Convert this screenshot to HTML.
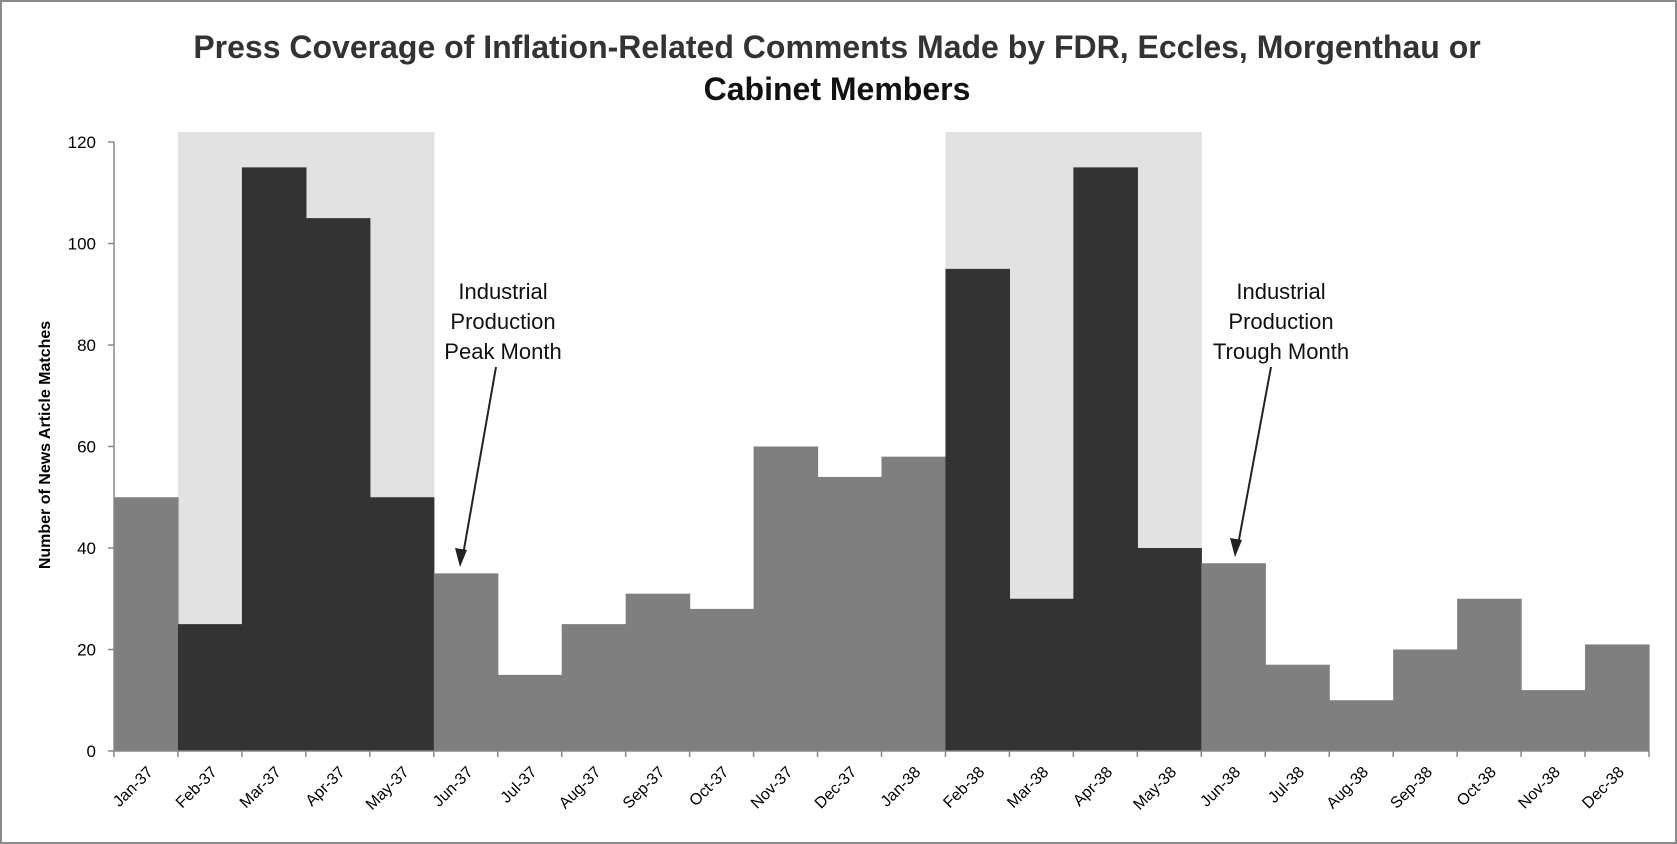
<!DOCTYPE html>
<html><head><meta charset="utf-8"><style>
body{margin:0;background:#fff;}
svg{display:block;font-family:"Liberation Sans",sans-serif;}
</style></head><body>
<svg width="1677" height="844" viewBox="0 0 1677 844">
<rect x="1" y="1" width="1675" height="842" fill="#fff" stroke="#8a8a8a" stroke-width="2"/>
<g id="shade"></g>
<g id="bars"></g>
<g id="axes"></g>
<text x="837" y="58" text-anchor="middle" font-size="32" font-weight="bold" fill="#333">Press Coverage of Inflation-Related Comments Made by FDR, Eccles, Morgenthau or</text>
<text x="837" y="100" text-anchor="middle" font-size="32" font-weight="bold" fill="#111">Cabinet Members</text>
<text transform="translate(50,445) rotate(-90)" text-anchor="middle" font-size="16" font-weight="bold" fill="#000">Number of News Article Matches</text>
<g font-size="22" fill="#111" text-anchor="middle">
<text x="503" y="299">Industrial</text><text x="503" y="329">Production</text><text x="503" y="359">Peak Month</text>
<line x1="496" y1="367" x2="463" y2="555" stroke="#222" stroke-width="2"/>
<polygon points="460,567 455,548 467,550" fill="#222"/>
</g>
<g font-size="22" fill="#111" text-anchor="middle">
<text x="1281" y="299">Industrial</text><text x="1281" y="329">Production</text><text x="1281" y="359">Trough Month</text>
<line x1="1271" y1="367" x2="1238" y2="545" stroke="#222" stroke-width="2"/>
<polygon points="1235,557 1230,538 1242,540" fill="#222"/>
</g>
</svg>
<script>
const categories=["Jan-37","Feb-37","Mar-37","Apr-37","May-37","Jun-37","Jul-37","Aug-37","Sep-37","Oct-37","Nov-37","Dec-37","Jan-38","Feb-38","Mar-38","Apr-38","May-38","Jun-38","Jul-38","Aug-38","Sep-38","Oct-38","Nov-38","Dec-38"];
const values=[50,25,115,105,50,35,15,25,31,28,60,54,58,95,30,115,40,37,17,10,20,30,12,21];
const recession=[false,true,true,true,true,false,false,false,false,false,false,false,false,true,true,true,true,false,false,false,false,false,false,false];
const yTicks=[0,20,40,60,80,100,120];
const NS="http://www.w3.org/2000/svg";
const x0=114,bw=(1649-114)/categories.length,y0=751,y120=142;
const X=i=>x0+i*bw, Y=v=>y0-(y0-y120)*v/120;
function mk(t,a,p){const e=document.createElementNS(NS,t);for(const k in a)e.setAttribute(k,a[k]);p.appendChild(e);return e;}
const sh=document.getElementById('shade'),bars=document.getElementById('bars'),ax=document.getElementById('axes');
recession.forEach((r,i)=>{if(r){const e=mk('rect',{x:X(i),y:Y(120)-10,width:bw+0.6,height:Y(0)-Y(120)+10,fill:'#e2e2e2'},sh);

}});
values.forEach((v,i)=>{const e=mk('rect',{x:X(i),y:Y(v),width:bw+0.6,height:Y(0)-Y(v),fill:recession[i]?'#333':'#7f7f7f'},bars);

});
mk('line',{x1:x0,y1:Y(0),x2:x0,y2:Y(120),stroke:'#888','stroke-width':1.5},ax);
mk('line',{x1:x0,y1:Y(0),x2:X(categories.length),y2:Y(0),stroke:'#888','stroke-width':1.5},ax);
yTicks.forEach(t=>{mk('line',{x1:x0-6,y1:Y(t),x2:x0,y2:Y(t),stroke:'#888','stroke-width':1.5},ax);
const e=mk('text',{x:x0-18,y:Y(t)+6,'text-anchor':'end','font-size':17,fill:'#000'},ax);e.textContent=t;

});
for(let i=0;i<=categories.length;i++)mk('line',{x1:X(i),y1:Y(0),x2:X(i),y2:Y(0)+6,stroke:'#888','stroke-width':1.5},ax);
categories.forEach((c,i)=>{const cx=X(i)+bw/2+8,cy=Y(0)+22;
const e=mk('text',{x:cx,y:cy,'text-anchor':'end','font-size':16,fill:'#000',transform:`rotate(-45 ${cx} ${cy})`},ax);e.textContent=c;

});
</script>
</body></html>
